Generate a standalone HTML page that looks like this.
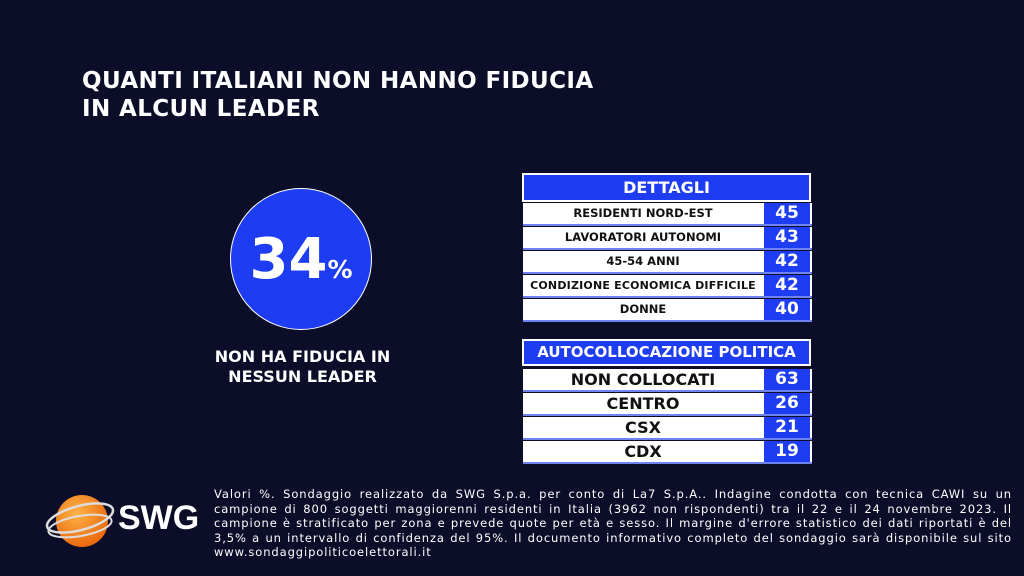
<!DOCTYPE html><html><head><style>
body{margin:0;width:1024px;height:576px;background:#0b0d29;font-family:Verdana,"DejaVu Sans",sans-serif;position:relative;overflow:hidden;color:#fff}
.a{position:absolute}
.t{left:82px;top:67px;font-size:23px;font-weight:bold;line-height:28px;letter-spacing:0.4px}
.hd{background:#1e3df2;border:2px solid #fff;color:#fff;font-weight:bold;text-align:center;box-sizing:border-box}
.row{position:absolute;left:523px;width:289px;height:23px;background:#fff;border-bottom:2px solid #6f84f0;box-sizing:border-box}
.row .l{position:absolute;left:0;width:240px;top:0;height:21px;line-height:21px;text-align:center;color:#111;font-weight:bold}
.row .v{position:absolute;left:241px;width:46px;top:0;height:21px;line-height:21px;background:#1e3df2;color:#fff;font-weight:bold;text-align:center;font-size:17px}
.s .l{font-size:11.5px}.b .l{font-size:16px}
.foot{left:214px;top:487px;font-size:11.5px;line-height:14.5px;width:798px;letter-spacing:0.9px}
.foot div{text-align:justify;text-align-last:justify;height:14.5px;white-space:nowrap}
</style></head><body>
<div class="a t">QUANTI ITALIANI NON HANNO FIDUCIA<br>IN ALCUN LEADER</div>
<div class="a" style="left:230px;top:188px;width:142px;height:142px;border-radius:50%;background:#1e3df2;border:1px solid #fff;box-sizing:border-box;text-align:center;line-height:142px;font-weight:bold"><span style="font-size:56px">34</span><span style="font-size:25px">%</span></div>
<div class="a" style="left:195px;top:347px;width:215px;text-align:center;font-weight:bold;font-size:16px;line-height:20px">NON HA FIDUCIA IN<br>NESSUN LEADER</div>
<div class="a hd" style="left:522px;top:173px;width:289px;height:29px;line-height:25px;font-size:16px">DETTAGLI</div>
<div class="row s" style="top:203px"><div class="l">RESIDENTI NORD-EST</div><div class="v">45</div></div>
<div class="row s" style="top:227px"><div class="l">LAVORATORI AUTONOMI</div><div class="v">43</div></div>
<div class="row s" style="top:251px"><div class="l">45-54 ANNI</div><div class="v">42</div></div>
<div class="row s" style="top:275px"><div class="l" style="font-size:11px;letter-spacing:0.2px">CONDIZIONE ECONOMICA DIFFICILE</div><div class="v">42</div></div>
<div class="row s" style="top:299px"><div class="l">DONNE</div><div class="v">40</div></div>
<div class="a hd" style="left:522px;top:339px;width:289px;height:27px;line-height:23px;font-size:15px">AUTOCOLLOCAZIONE POLITICA</div>
<div class="row b" style="top:369px"><div class="l">NON COLLOCATI</div><div class="v">63</div></div>
<div class="row b" style="top:393px"><div class="l">CENTRO</div><div class="v">26</div></div>
<div class="row b" style="top:417px"><div class="l">CSX</div><div class="v">21</div></div>
<div class="row b" style="top:441px"><div class="l">CDX</div><div class="v">19</div></div>
<svg class="a" style="left:40px;top:488px" width="80" height="66" viewBox="0 0 80 66">
<defs><radialGradient id="g" cx="0.4" cy="0.35" r="0.7"><stop offset="0" stop-color="#ffb347"/><stop offset="1" stop-color="#e8650a"/></radialGradient></defs>
<circle cx="42" cy="33" r="26" fill="url(#g)"/>
<ellipse cx="40" cy="30" rx="34" ry="12" transform="rotate(-15 40 30)" fill="none" stroke="#ddd" stroke-width="2.5"/>
<ellipse cx="40" cy="38" rx="32" ry="10" transform="rotate(-10 40 38)" fill="none" stroke="#ddd" stroke-width="2"/>
</svg>
<div class="a" style="left:118px;top:499px;font-size:34px;font-weight:bold;font-family:'Liberation Sans',sans-serif">SWG</div>
<div class="a foot">
<div>Valori %. Sondaggio realizzato da SWG S.p.a. per conto di La7 S.p.A.. Indagine condotta con tecnica CAWI su un</div>
<div>campione di 800 soggetti maggiorenni residenti in Italia (3962 non rispondenti) tra il 22 e il 24 novembre 2023. Il</div>
<div>campione è stratificato per zona e prevede quote per età e sesso. Il margine d'errore statistico dei dati riportati è del</div>
<div>3,5% a un intervallo di confidenza del 95%. Il documento informativo completo del sondaggio sarà disponibile sul sito</div>
<div style="text-align-last:left">www.sondaggipoliticoelettorali.it</div>
</div>
</body></html>
